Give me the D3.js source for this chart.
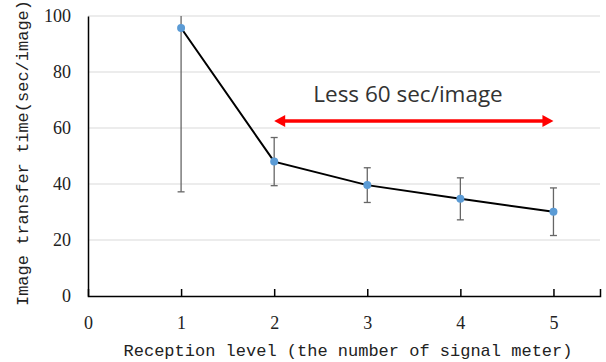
<!DOCTYPE html>
<html>
<head>
<meta charset="utf-8">
<script src="https://cdn.jsdelivr.net/npm/d3@7"></script>
<style>
  body { margin: 0; background: #fff; }
</style>
</head>
<body>
<script>
// reception level vs mean transfer time, with error bars
const levels = [1, 2, 3, 4, 5];
const meanTime = [95.7, 48, 39.6, 34.7, 30.1];
const errTime = [58.5, 8.6, 6.2, 7.5, 8.5];
const xTicks = [0, 1, 2, 3, 4, 5];
const yTicks = [0, 20, 40, 60, 80, 100];
const arrowRange = [2, 5];
const arrowLevel = 62.5;

const width = 606;
const height = 362;
const svg = d3
  .select("body")
  .append("svg")
  .attr("width", width)
  .attr("height", height);

const x = d3.scaleLinear().domain([0, 5.5]).range([88, 600]);
const y = d3.scaleLinear().domain([0, 100]).range([296, 16]);

svg.append("defs").append("clipPath").attr("id", "plot")
  .append("rect").attr("x", 88).attr("y", 16).attr("width", 512).attr("height", 280);

// gridlines
svg.append("g")
  .selectAll("line")
  .data(yTicks.filter((d) => d > 0))
  .enter()
  .append("line")
  .attr("x1", x(0))
  .attr("x2", x(5.5))
  .attr("y1", (d) => y(d))
  .attr("y2", (d) => y(d))
  .attr("stroke", "#d9d9d9")
  .attr("stroke-width", 1);

// axes
const xAxis = d3.axisBottom(x).tickValues(xTicks).tickSize(-7).tickFormat(d3.format("d"));
const gx = svg.append("g").attr("transform", `translate(0,${y(0)})`).call(xAxis);
gx.select(".domain").attr("stroke", "#000").attr("stroke-width", 1.5);
gx.selectAll(".tick line").attr("stroke", "#000").attr("stroke-width", 1.5)
  .filter((d) => d === 0).remove();
gx.selectAll(".tick text")
  .attr("y", 20)
  .attr("font-family", "Liberation Serif")
  .attr("font-size", 18)
  .attr("fill", "#222");

const yAxis = d3.axisLeft(y).tickValues(yTicks).tickSize(0).tickPadding(17);
const gy = svg.append("g").attr("transform", `translate(${x(0)},0)`).call(yAxis);
gy.select(".domain").attr("stroke", "#000").attr("stroke-width", 1.5);
gy.selectAll(".tick text")
  .attr("font-family", "Liberation Serif")
  .attr("font-size", 18)
  .attr("fill", "#222");

// error bars
const pts = levels.map((l, i) => ({ l, m: meanTime[i], e: errTime[i] }));
const eb = svg.append("g").attr("clip-path", "url(#plot)").attr("stroke", "#666").attr("stroke-width", 1.3);
eb.selectAll(".v").data(pts).enter().append("line")
  .attr("x1", (d) => x(d.l)).attr("x2", (d) => x(d.l))
  .attr("y1", (d) => y(d.m + d.e)).attr("y2", (d) => y(d.m - d.e));
eb.selectAll(".t").data(pts).enter().append("line")
  .attr("x1", (d) => x(d.l) - 3.5).attr("x2", (d) => x(d.l) + 3.5)
  .attr("y1", (d) => y(d.m + d.e)).attr("y2", (d) => y(d.m + d.e));
eb.selectAll(".b").data(pts).enter().append("line")
  .attr("x1", (d) => x(d.l) - 3.5).attr("x2", (d) => x(d.l) + 3.5)
  .attr("y1", (d) => y(d.m - d.e)).attr("y2", (d) => y(d.m - d.e));

// line + markers
svg.append("path")
  .datum(pts)
  .attr("fill", "none")
  .attr("stroke", "#000")
  .attr("stroke-width", 2)
  .attr("d", d3.line().x((d) => x(d.l)).y((d) => y(d.m)));

svg.append("g")
  .selectAll("circle")
  .data(pts)
  .enter()
  .append("circle")
  .attr("cx", (d) => x(d.l))
  .attr("cy", (d) => y(d.m))
  .attr("r", 4)
  .attr("fill", "#5b9bd5");

// red double arrow
const ay = y(arrowLevel);
const ax1 = x(arrowRange[0]);
const ax2 = x(arrowRange[1]);
svg.append("line")
  .attr("x1", ax1 + 8).attr("x2", ax2 - 8)
  .attr("y1", ay).attr("y2", ay)
  .attr("stroke", "#ff0000").attr("stroke-width", 3.5);
svg.append("path")
  .attr("d", `M${ax1},${ay} L${ax1 + 11},${ay - 6} L${ax1 + 11},${ay + 6} Z`)
  .attr("fill", "#ff0000");
svg.append("path")
  .attr("d", `M${ax2},${ay} L${ax2 - 11},${ay - 6} L${ax2 - 11},${ay + 6} Z`)
  .attr("fill", "#ff0000");

svg.append("text")
  .attr("x", 408)
  .attr("y", 102)
  .attr("text-anchor", "middle")
  .attr("font-family", "Open Sans")
  .attr("font-size", 22.5)
  .attr("fill", "#333")
  .text("Less 60 sec/image");

// axis titles
svg.append("text")
  .attr("x", 348)
  .attr("y", 356)
  .attr("text-anchor", "middle")
  .attr("font-family", "Liberation Mono")
  .attr("font-size", 17)
  .attr("fill", "#222")
  .text("Reception level (the number of signal meter)");

svg.append("text")
  .attr("transform", "translate(28,153) rotate(-90)")
  .attr("text-anchor", "middle")
  .attr("font-family", "Liberation Mono")
  .attr("font-size", 17)
  .attr("fill", "#222")
  .text("Image transfer time(sec/image)");
</script>
</body>
</html>
